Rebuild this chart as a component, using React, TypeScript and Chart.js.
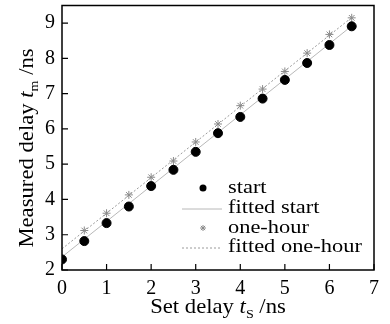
import React, { useEffect, useRef } from "react";
import { Chart, registerables } from "chart.js";

Chart.register(...registerables);

const startX = [0, 0.5, 1, 1.5, 2, 2.5, 3, 3.5, 4, 4.5, 5, 5.5, 6, 6.5];
const startValues = [2.3, 2.82, 3.33, 3.8, 4.38, 4.84, 5.35, 5.88, 6.34, 6.86, 7.39, 7.87, 8.38, 8.91];
const oneHourX = [0.5, 1, 1.5, 2, 2.5, 3, 3.5, 4, 4.5, 5, 5.5, 6, 6.5];
const oneHourValues = [3.12, 3.61, 4.13, 4.63, 5.09, 5.63, 6.14, 6.66, 7.13, 7.63, 8.15, 8.68, 9.15];
const fittedStartX = [0, 6.5];
const fittedStartValues = [2.37, 8.92];
const fittedOneHourX = [0, 6.5];
const fittedOneHourValues = [2.6, 9.16];
const xTicks = [0, 1, 2, 3, 4, 5, 6, 7];
const yTicks = [2, 3, 4, 5, 6, 7, 8, 9];
const labels = ["start", "fitted start", "one-hour", "fitted one-hour"];

const FONT = "'Liberation Serif', 'Times New Roman', serif";

const pts = (xs: number[], ys: number[]) => xs.map((x, i) => ({ x, y: ys[i] }));

const decorPlugin = {
  id: "decor",
  afterDraw(chart: any) {
    const ctx = chart.ctx as CanvasRenderingContext2D;
    const a = chart.chartArea;
    const xs = chart.scales.x;
    const ys = chart.scales.y;
    ctx.save();
    // frame
    ctx.strokeStyle = "#000";
    ctx.lineWidth = 1.5;
    ctx.strokeRect(a.left, a.top, a.right - a.left, a.bottom - a.top);
    // inward ticks
    ctx.lineWidth = 1.2;
    ctx.beginPath();
    xTicks.forEach((v) => {
      const p = xs.getPixelForValue(v);
      ctx.moveTo(p, a.bottom);
      ctx.lineTo(p, a.bottom - 6);
    });
    yTicks.forEach((v) => {
      const p = ys.getPixelForValue(v);
      ctx.moveTo(a.left, p);
      ctx.lineTo(a.left + 6, p);
    });
    ctx.stroke();

    // legend
    const lx = a.left + 166;
    const rowY = [a.bottom - 82, a.bottom - 62, a.bottom - 42, a.bottom - 23];
    const ds = chart.data.datasets;
    labels.forEach((lab, i) => {
      const y = rowY[i];
      const d = ds[i];
      if (i === 0) {
        ctx.beginPath();
        ctx.fillStyle = d.backgroundColor;
        ctx.arc(lx - 25, y, 3.5, 0, Math.PI * 2);
        ctx.fill();
      } else if (i === 2) {
        ctx.strokeStyle = d.borderColor;
        ctx.lineWidth = 1;
        const r = 3;
        ctx.beginPath();
        ctx.moveTo(lx - 25 - r, y);
        ctx.lineTo(lx - 25 + r, y);
        ctx.moveTo(lx - 25, y - r);
        ctx.lineTo(lx - 25, y + r);
        const q = r * 0.707;
        ctx.moveTo(lx - 25 - q, y - q);
        ctx.lineTo(lx - 25 + q, y + q);
        ctx.moveTo(lx - 25 - q, y + q);
        ctx.lineTo(lx - 25 + q, y - q);
        ctx.stroke();
      } else {
        ctx.strokeStyle = d.borderColor;
        ctx.lineWidth = 1;
        ctx.setLineDash(d.borderDash || []);
        ctx.beginPath();
        ctx.moveTo(lx - 46, y + 1);
        ctx.lineTo(lx - 6, y + 1);
        ctx.stroke();
        ctx.setLineDash([]);
      }
      ctx.save();
      ctx.translate(lx, y);
      ctx.scale(1.18, 1);
      ctx.font = `19px ${FONT}`;
      ctx.textBaseline = "middle";
      ctx.textAlign = "left";
      ctx.fillStyle = "#000";
      ctx.fillText(lab, 0, 0);
      ctx.restore();
    });

    // titles with subscripts
    const SX = 1.08;
    const drawParts = (parts: { t: string; f: string; dy: number }[]) => {
      let total = 0;
      parts.forEach((p) => {
        ctx.font = p.f;
        total += ctx.measureText(p.t).width;
      });
      let x = -total / 2;
      ctx.textAlign = "left";
      ctx.textBaseline = "alphabetic";
      ctx.fillStyle = "#000";
      parts.forEach((p) => {
        ctx.font = p.f;
        ctx.fillText(p.t, x, p.dy);
        x += ctx.measureText(p.t).width;
      });
    };
    const big = `21px ${FONT}`;
    const ital = `italic 21px ${FONT}`;
    const sub = `13px ${FONT}`;
    ctx.save();
    ctx.translate((a.left + a.right) / 2, 313);
    ctx.scale(SX, 1);
    drawParts([
      { t: "Set delay ", f: big, dy: 0 },
      { t: "t", f: ital, dy: 0 },
      { t: "S", f: sub, dy: 5 },
      { t: " /ns", f: big, dy: 0 },
    ]);
    ctx.restore();
    ctx.save();
    ctx.translate(33, 148);
    ctx.rotate(-Math.PI / 2);
    ctx.scale(SX, 1);
    drawParts([
      { t: "Measured delay ", f: big, dy: 0 },
      { t: "t", f: ital, dy: 0 },
      { t: "m", f: sub, dy: 5 },
      { t: " /ns", f: big, dy: 0 },
    ]);
    ctx.restore();
    ctx.restore();
  },
};

export default function App() {
  const ref = useRef<HTMLCanvasElement | null>(null);
  useEffect(() => {
    if (!ref.current) return;
    const chart = new Chart(ref.current, {
      type: "scatter",
      data: {
        datasets: [
          {
            label: labels[0],
            data: pts(startX, startValues),
            backgroundColor: "#000",
            borderColor: "#000",
            pointRadius: 4.5,
            pointStyle: "circle",
            showLine: false,
            order: 0,
          },
          {
            label: labels[1],
            data: pts(fittedStartX, fittedStartValues),
            borderColor: "#b8b8b8",
            backgroundColor: "#b8b8b8",
            borderWidth: 1,
            pointRadius: 0,
            showLine: true,
            order: 2,
          },
          {
            label: labels[2],
            data: pts(oneHourX, oneHourValues),
            borderColor: "#8a8a8a",
            backgroundColor: "#8a8a8a",
            pointStyle: "star",
            pointRadius: 4,
            borderWidth: 1,
            showLine: false,
            order: 1,
          },
          {
            label: labels[3],
            data: pts(fittedOneHourX, fittedOneHourValues),
            borderColor: "#9a9a9a",
            backgroundColor: "#9a9a9a",
            borderWidth: 1,
            borderDash: [2, 2],
            pointRadius: 0,
            showLine: true,
            order: 3,
          },
        ],
      },
      options: {
        animation: false,
        responsive: false,
        devicePixelRatio: 1,
        layout: { padding: { left: 0, top: 5, right: 16, bottom: 0 } },
        plugins: { legend: { display: false }, tooltip: { enabled: false } },
        scales: {
          x: {
            type: "linear",
            min: 0,
            max: 7,
            afterBuildTicks: (s: any) => {
              s.ticks = xTicks.map((v) => ({ value: v }));
            },
            afterFit: (s: any) => {
              s.height = 54;
              s.paddingLeft = 0;
              s.paddingRight = 0;
            },
            grid: { display: false, drawTicks: false },
            border: { display: false },
            ticks: { color: "#000", font: { family: FONT, size: 20 }, padding: 7, maxRotation: 0 },
          },
          y: {
            type: "linear",
            min: 2,
            max: 9.5,
            afterBuildTicks: (s: any) => {
              s.ticks = yTicks.map((v) => ({ value: v }));
            },
            afterFit: (s: any) => {
              s.width = 62;
              s.paddingTop = 0;
              s.paddingBottom = 0;
            },
            grid: { display: false, drawTicks: false },
            border: { display: false },
            ticks: { color: "#000", font: { family: FONT, size: 20 }, padding: 7 },
          },
        },
      },
      plugins: [decorPlugin],
    } as any);
    return () => chart.destroy();
  }, []);
  return (
    <div style={{ position: "absolute", left: 0, top: 0, width: 390, height: 324, background: "#fff" }}>
      <canvas ref={ref} width={390} height={324} />
    </div>
  );
}
